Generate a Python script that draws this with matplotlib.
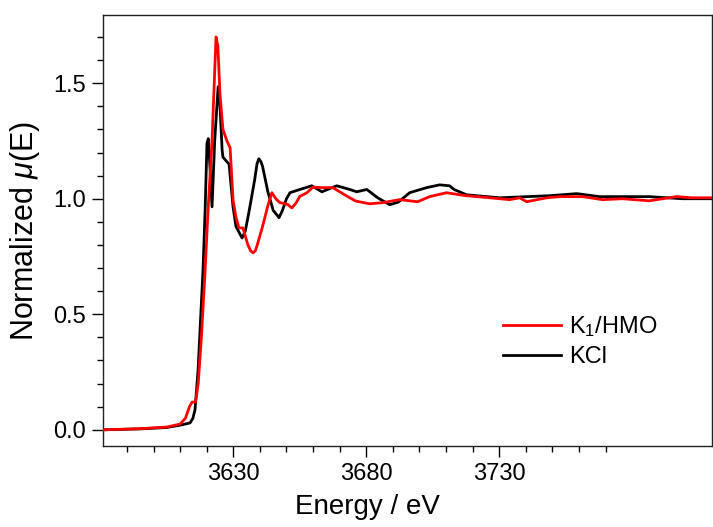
import matplotlib
matplotlib.use("Agg")
import matplotlib.pyplot as plt
from matplotlib.ticker import FixedLocator, MultipleLocator

plt.rcParams['font.family'] = ['Liberation Sans', 'DejaVu Sans']
plt.rcParams['mathtext.fontset'] = 'custom'
plt.rcParams['mathtext.rm'] = 'Liberation Sans'
plt.rcParams['mathtext.it'] = 'Liberation Sans:italic'

# K1/HMO (red)
e_red = [3581, 3595, 3605, 3610, 3612, 3613.5, 3614.5, 3615.8, 3616.8, 3618, 3619.4,
         3620.5, 3622, 3623, 3623.5, 3624.2, 3625, 3626.1, 3627.6, 3628.8, 3629.9,
         3631, 3632.1, 3633.6, 3635.5, 3636.5, 3637.4, 3638.3, 3639, 3641, 3643, 3644.5, 3646,
         3647.5, 3649, 3650.5, 3652, 3653.5, 3655, 3657.7, 3659.9, 3663.7, 3667.4,
         3670, 3673.8, 3676, 3681.3, 3686.2, 3692.6, 3699.3, 3703.8, 3710.2, 3715.1,
         3717.7, 3726.4, 3733.9, 3737.7, 3740.3, 3747.8, 3752.8, 3761.4, 3768.8,
         3776.3, 3786.4, 3796.6, 3802.6, 3810]
mu_red = [0.0, 0.005, 0.012, 0.025, 0.05, 0.10, 0.12, 0.12, 0.2, 0.4, 0.69,
          0.95, 1.25, 1.55, 1.70, 1.66, 1.45, 1.30, 1.25, 1.22, 0.995,
          0.92, 0.874, 0.874, 0.80, 0.775, 0.766, 0.775, 0.80, 0.88, 0.97, 1.026, 1.00,
          0.983, 0.98, 0.975, 0.96, 0.98, 1.01, 1.026, 1.05, 1.048, 1.048,
          1.03, 1.004, 0.99, 0.978, 0.983, 0.996, 0.987, 1.009, 1.026, 1.017,
          1.013, 1.004, 0.996, 1.004, 0.987, 1.004, 1.009, 1.009, 0.996,
          1.0, 0.991, 1.009, 1.004, 1.004]

# KCl (black)
e_blk = [3581, 3595, 3605, 3610, 3613.75, 3614.8, 3615.6, 3616.75, 3618.6, 3619.4, 3620.1,
         3620.6, 3621.3, 3622.0, 3623, 3624.3, 3625, 3625.8, 3626.1, 3627.6, 3628.4, 3629.9,
         3631, 3633.3, 3634.5, 3636, 3638, 3638.9, 3639.6, 3640.4, 3641, 3643, 3645, 3647.2,
         3648.5, 3650, 3651.3, 3655, 3659.5, 3663.3, 3668.9, 3673.8, 3676.4, 3680.2,
         3684.3, 3688.8, 3692, 3696.3, 3702.7, 3707.6, 3711.3, 3713, 3717.7, 3730.1,
         3748.9, 3759.2, 3767.7, 3786.4, 3798.8, 3810]
mu_blk = [0.0, 0.004, 0.01, 0.02, 0.03, 0.05, 0.087, 0.26, 0.69, 0.95, 1.24,
          1.26, 1.12, 0.965, 1.25, 1.485, 1.40, 1.21, 1.18, 1.16, 1.15, 0.965,
          0.88, 0.83, 0.86, 0.95, 1.08, 1.15, 1.173, 1.16, 1.14, 1.03, 0.95, 0.918,
          0.95, 1.0, 1.026, 1.04, 1.056, 1.03, 1.056, 1.04, 1.03, 1.04,
          1.004, 0.974, 0.985, 1.026, 1.048, 1.06, 1.056, 1.04, 1.017, 1.004,
          1.013, 1.022, 1.009, 1.009, 1.0, 1.0]

labels = ["K$_1$/HMO", "KCl"]

fig = plt.figure(figsize=(7.13, 5.27), dpi=100)
ax = fig.add_axes([103/713, 1-446/527, 609/713, 431/527])

ax.plot(e_red, mu_red, color='#ff0000', lw=2.0, label=labels[0], zorder=3)
ax.plot(e_blk, mu_blk, color='black', lw=2.0, label=labels[1], zorder=2)

ax.set_xlim(3581, 3810)
ax.set_ylim(-0.07, 1.795)

ax.xaxis.set_major_locator(FixedLocator([3630, 3680, 3730]))
ax.xaxis.set_minor_locator(FixedLocator([x for x in range(3590, 3771, 10) if x not in (3630, 3680, 3730)]))
ax.yaxis.set_major_locator(MultipleLocator(0.5))
ax.yaxis.set_minor_locator(MultipleLocator(0.1))
ax.yaxis.set_major_formatter(plt.FuncFormatter(lambda v, p: f"{v:.1f}"))

ax.tick_params(which='major', direction='out', length=8, width=1, labelsize=17, pad=4)
ax.tick_params(which='minor', direction='out', length=4.5, width=1)
ax.tick_params(top=False, right=False)

for s in ax.spines.values():
    s.set_linewidth(1.0)
    s.set_color('#222222')

ax.set_xlabel("Energy / eV", fontsize=20)
ax.xaxis.set_label_coords((367-103)/609, -0.112)
ax.set_ylabel("Normalized $\\mu$(E)", fontsize=22, labelpad=8)

ax.legend(loc='center left', bbox_to_anchor=((503-103)/609, (446-341.5)/431),
          frameon=False, fontsize=17, handlelength=2.45, borderpad=0,
          borderaxespad=0, handletextpad=0.35, labelspacing=0.3)

fig.savefig("out.png", dpi=100)
